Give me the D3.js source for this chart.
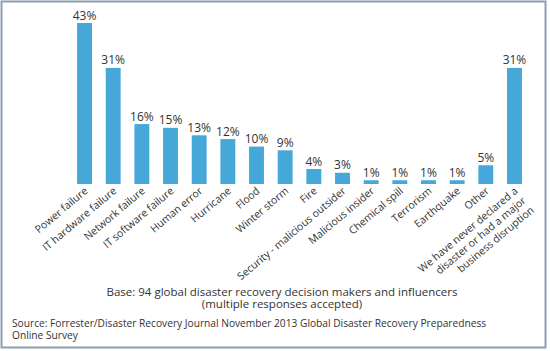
<!DOCTYPE html>
<html>
<head>
<meta charset="utf-8">
<script src="https://cdn.jsdelivr.net/npm/d3@7"></script>
<style>
  body { margin: 0; background: #fff; }
  text { font-family: "Open Sans", "Noto Sans", sans-serif; fill: #333; }
</style>
</head>
<body>
<script>
const width = 550, height = 351;

const categories = [
  ["Power failure"], ["IT hardware failure"], ["Network failure"], ["IT software failure"],
  ["Human error"], ["Hurricane"], ["Flood"], ["Winter storm"], ["Fire"],
  ["Security - malicious outsider"], ["Malicious insider"], ["Chemical spill"],
  ["Terrorism"], ["Earthquake"], ["Other"],
  ["We have never declared a", "disaster or  had a major", "business disruption"]
];
const values = [43, 31, 16, 15, 13, 12, 10, 9, 4, 3, 1, 1, 1, 1, 5, 31];
const baseNote = ["Base: 94 global disaster recovery decision makers and influencers", "(multiple responses accepted)"];
const sourceNote = ["Source: Forrester/Disaster Recovery Journal November 2013 Global Disaster Recovery Preparedness", "Online Survey"];

const svg = d3.select("body").append("svg").attr("width", width).attr("height", height);

// frame
svg.append("rect")
   .attr("x", 1.5).attr("y", 1.5)
   .attr("width", 544).attr("height", 346)
   .style("fill", "none")
   .style("stroke", "#8e9db3")
   .style("stroke-width", 2);

const x = d3.scaleBand()
    .domain(d3.range(values.length))
    .range([70.2, 528.8])
    .paddingInner(0.48)
    .paddingOuter(0.24);

const y = d3.scaleLinear().domain([0, 43]).range([184, 23]);

svg.selectAll(".bar")
   .data(values)
   .enter().append("rect")
   .attr("class", "bar")
   .attr("x", (d, i) => x(i))
   .attr("y", d => y(d))
   .attr("width", x.bandwidth())
   .attr("height", d => y(0) - y(d))
   .style("fill", "#46a7d9");

svg.selectAll(".value")
   .data(values)
   .enter().append("text")
   .attr("class", "value")
   .attr("x", (d, i) => x(i) + x.bandwidth() / 2)
   .attr("y", d => y(d) - 3.5)
   .attr("text-anchor", "middle")
   .style("font-size", "12px")
   .text(d => d + "%");

// rotated category labels
const label = svg.selectAll(".cat")
   .data(categories)
   .enter().append("text")
   .attr("class", "cat")
   .attr("text-anchor", "end")
   .attr("transform", (d, i) => `translate(${x(i) + x.bandwidth() / 2 + 4}, 192) rotate(-40)`)
   .style("font-size", "10.5px");

label.selectAll("tspan")
   .data(d => d)
   .enter().append("tspan")
   .attr("x", 0)
   .attr("dy", (d, i) => i === 0 ? 0 : "1.2em")
   .text(d => d);

svg.selectAll(".base")
   .data(baseNote)
   .enter().append("text")
   .attr("class", "base")
   .attr("x", 282)
   .attr("y", (d, i) => 296 + i * 12)
   .attr("text-anchor", "middle")
   .style("font-size", "11.5px")
   .text(d => d);

svg.selectAll(".source")
   .data(sourceNote)
   .enter().append("text")
   .attr("class", "source")
   .attr("x", 12)
   .attr("y", (d, i) => 327 + i * 12)
   .style("font-size", "10.2px")
   .text(d => d);
</script>
</body>
</html>
